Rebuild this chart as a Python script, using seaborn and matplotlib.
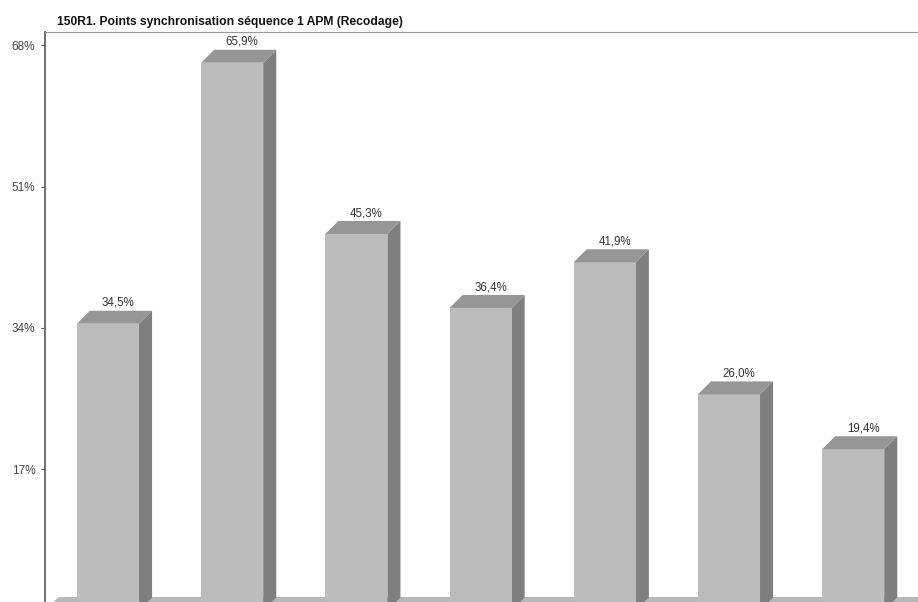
import matplotlib
matplotlib.use('Agg')
import matplotlib.pyplot as plt
from matplotlib.patches import Polygon
import pandas as pd
import seaborn as sns

categories = ['c1', 'c2', 'c3', 'c4', 'c5', 'c6', 'c7']
values = [34.5, 65.9, 45.3, 36.4, 41.9, 26.0, 19.4]
value_labels = ['34,5%', '65,9%', '45,3%', '36,4%', '41,9%', '26,0%', '19,4%']
y_ticks = [17, 34, 51, 68]
y_tick_labels = ['17%', '34%', '51%', '68%']
title = '150R1. Points synchronisation séquence 1 APM (Recodage)'

FRONT = '#bcbcbc'
TOP = '#969696'
SIDE = '#7f7f7f'
FLOOR = '#b9b9b9'
# 3D depth of the bars, in data units (about 13 px each way)
DX = 0.105
DY = 1.56

sns.set_theme(style='white')
plt.rcParams['font.family'] = ['Liberation Sans', 'DejaVu Sans']

df = pd.DataFrame({'cat': categories, 'val': values})

fig = plt.figure(figsize=(9.18, 6.02), dpi=100)
ax = fig.add_axes([45 / 918, 0, 873 / 918, 570 / 602])

sns.barplot(data=df, x='cat', y='val', color=FRONT, saturation=1, width=0.5,
            linewidth=0, edgecolor='none', ax=ax, zorder=3)

ax.set_xlim(-0.507, 6.522)
ax.set_ylim(1.02, 69.6)

# fake 3D: floor strip, then top and side faces of each bar
x0, x1 = ax.get_xlim()
y0 = ax.get_ylim()[0]
ax.add_patch(Polygon([(x0 + 0.07, y0), (x0 + 0.11, y0 + 0.6), (x1, y0 + 0.6), (x1, y0)],
                     closed=True, fc=FLOOR, ec='none', zorder=1))

for bar, label in zip(ax.patches[:len(values)], value_labels):
    left = bar.get_x()
    right = left + bar.get_width()
    h = bar.get_height()
    ax.add_patch(Polygon([(left, h), (left + DX, h + DY), (right + DX, h + DY), (right, h)],
                         closed=True, fc=TOP, ec='none', zorder=3))
    ax.add_patch(Polygon([(right, 0), (right + DX, DY), (right + DX, h + DY), (right, h)],
                         closed=True, fc=SIDE, ec='none', zorder=2))
    ax.text(left + bar.get_width() / 2 + 0.08, h + DY + 0.22, label,
            ha='center', va='bottom', fontsize=8.3, color='#333333')

ax.set_xticks([])
ax.set_yticks(y_ticks)
ax.set_yticklabels(y_tick_labels, fontsize=8.5, color='#444444')
ax.tick_params(axis='y', length=3, width=0.8, color='#555555', pad=4, left=True)
ax.set_xlabel('')
ax.set_ylabel('')

for side in ['right', 'bottom']:
    ax.spines[side].set_visible(False)
ax.spines['left'].set_color('#707070')
ax.spines['left'].set_linewidth(1.4)
ax.spines['top'].set_color('#9a9a9a')
ax.spines['top'].set_linewidth(0.8)

fig.text(57 / 918, 1 - 22 / 602, title, fontsize=8.72, fontweight='bold', color='#111111', ha='left', va='center')

fig.savefig('out.png', dpi=100)
